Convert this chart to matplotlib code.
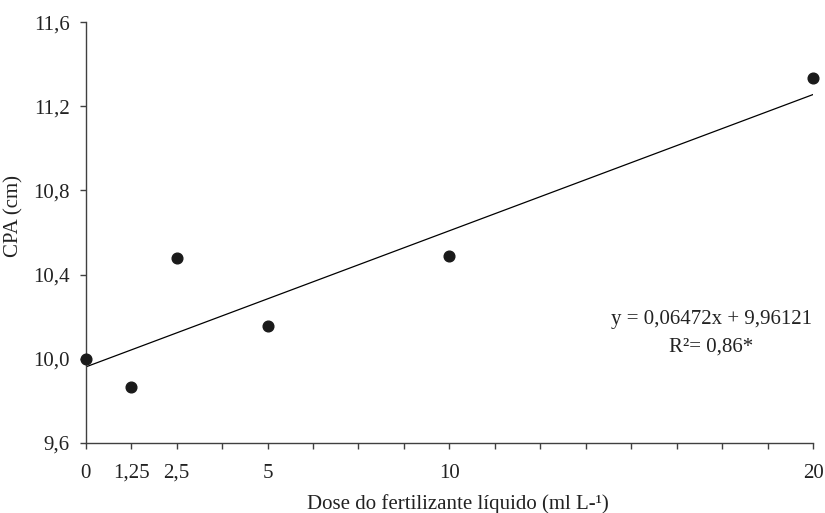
import numpy as np
import matplotlib.pyplot as plt

plt.rcParams['font.family'] = ['Liberation Serif', 'DejaVu Serif']

# dados
dose = [0, 1.25, 2.5, 5, 10, 20]
cpa = [10.00, 9.865, 10.479, 10.154, 10.487, 11.332]
a, b = 0.06472, 9.96121
xtick_pos = np.arange(0, 20.01, 1.25)
xtick_show = [0, 1.25, 2.5, 5, 10, 20]
yticks = [9.6, 10.0, 10.4, 10.8, 11.2, 11.6]

fig = plt.figure(figsize=(8.25, 5.13), dpi=100)
ax = fig.add_axes([0.1039, 0.1365, 0.8816, 0.8205])

xs = np.array([0, 20])
ax.plot(xs, a * xs + b, color='black', lw=0.9, zorder=2)
ax.plot(dose, cpa, 'o', color='#1a1a1a', ms=7.7, clip_on=False, zorder=3)

ax.set_xlim(0, 20)
ax.set_ylim(9.6, 11.6)
ax.set_xticks(xtick_pos)
ax.set_xticklabels([('%g' % t).replace('.', ',') if t in xtick_show else '' for t in xtick_pos])
ax.set_yticks(yticks)
ax.set_yticklabels([('%.1f' % t).replace('.', ',') for t in yticks])

for s in ['top', 'right']:
    ax.spines[s].set_visible(False)
for s in ['left', 'bottom']:
    ax.spines[s].set_color('#404040')
    ax.spines[s].set_linewidth(1.0)
ax.tick_params(axis='both', direction='out', length=4.5, width=1.0, color='#404040',
               labelsize=15, colors='#222222')
ax.tick_params(axis='y', pad=7)
ax.tick_params(axis='x', pad=10.5)

ax.set_ylabel('CPA (cm)', fontsize=15, color='#222222')
ax.yaxis.set_label_coords(-0.085, 0.54)
ax.set_xlabel('Dose do fertilizante líquido (ml L-¹)', fontsize=15, color='#222222', va='baseline')
ax.xaxis.set_label_coords(0.511, -0.157)

ax.text(17.2, 10.187, 'y = 0,06472x + 9,96121', fontsize=15, ha='center', va='center', color='#222222')
ax.text(17.2, 10.054, 'R²= 0,86*', fontsize=15, ha='center', va='center', color='#222222')

fig.savefig('out.png', dpi=100)
